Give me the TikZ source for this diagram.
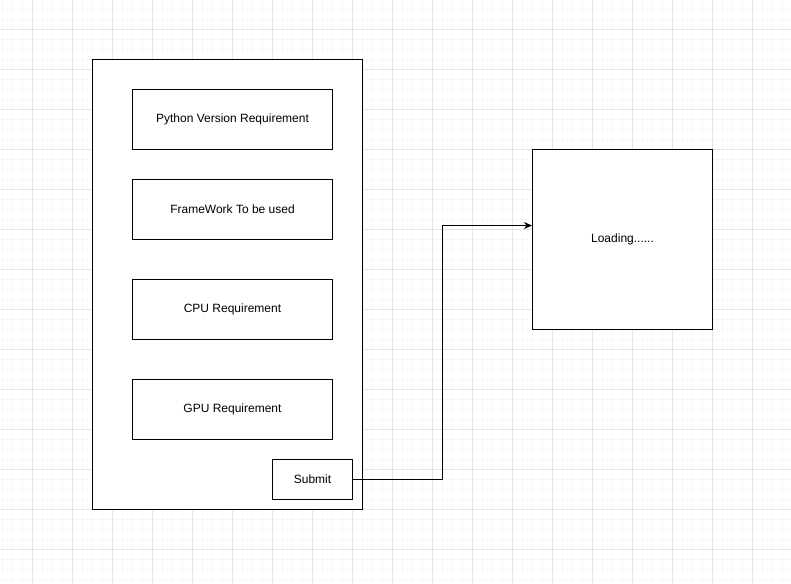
\documentclass[tikz,border=0pt]{standalone}
\usepackage{fontspec}
\setmainfont{Liberation Sans}
\usetikzlibrary{arrows.meta}
\definecolor{minorgrid}{HTML}{F7F7F7}
\definecolor{majorgrid}{HTML}{E4E4E4}
\begin{document}
\begin{tikzpicture}[x=1pt,y=-1pt,
  box/.style={draw=black, fill=white, line width=1pt, inner sep=0pt,
    font=\fontsize{12}{14}\selectfont},
  conn/.style={draw=black, line width=1pt, -{Stealth[length=8pt,width=7pt,inset=2.5pt]}}]
\useasboundingbox (0,0) rectangle (791,583);
\fill[white] (0,0) rectangle (791,583);
\foreach \x in {2.5,12.5,...,782.5} \draw[minorgrid, line width=1pt] (\x,0) -- (\x,583);
\foreach \y in {-0.5,9.5,...,579.5} \draw[minorgrid, line width=1pt] (0,\y) -- (791,\y);
\foreach \x in {32.5,72.5,...,792.5} \draw[majorgrid, line width=1pt] (\x,0) -- (\x,583);
\foreach \y in {29.5,69.5,...,589.5} \draw[majorgrid, line width=1pt] (0,\y) -- (791,\y);

\node[box, minimum width=270pt, minimum height=450pt] (panel) at (227.5,284.5) {};
\node[box, minimum width=200pt, minimum height=60pt] (python) at (232.5,119.5) {Python Version Requirement};
\node[box, minimum width=200pt, minimum height=60pt] (framework) at (232.5,209.5) {FrameWork To be used};
\node[box, minimum width=200pt, minimum height=60pt] (cpu) at (232.5,309.5) {CPU Requirement};
\node[box, minimum width=200pt, minimum height=60pt] (gpu) at (232.5,409.5) {GPU Requirement};
\node[box, minimum width=80pt, minimum height=40pt] (submit) at (312.5,479.5) {Submit};
\node[box, minimum width=180pt, minimum height=180pt] (loading) at (622.5,239.5) {Loading......};

\coordinate (bend) at (442.5,225.5);
\draw[conn] (submit.east) -| (bend) -- (loading.west |- bend);
\end{tikzpicture}
\end{document}
